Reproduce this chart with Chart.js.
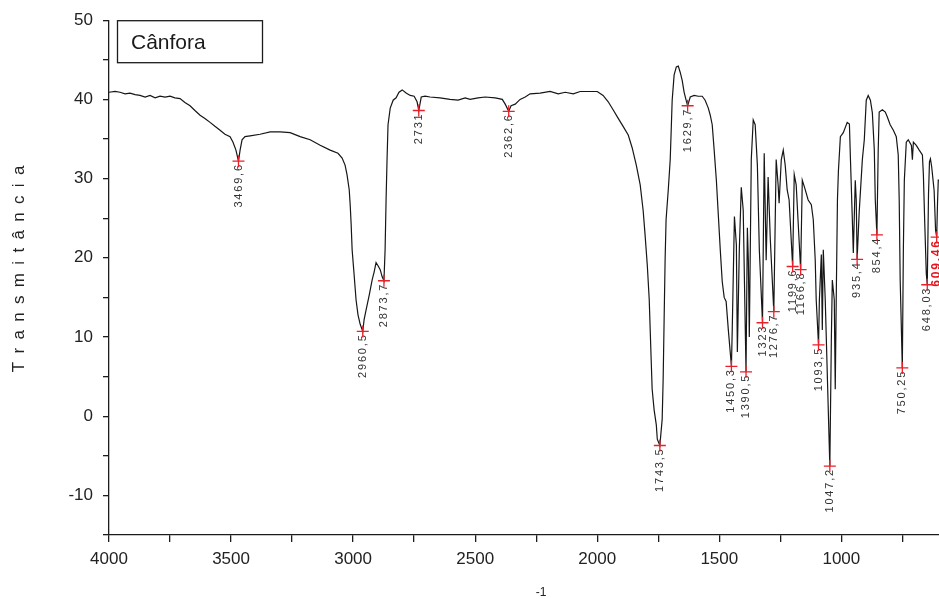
<!DOCTYPE html>
<html>
<head>
<meta charset="utf-8">
<title>Cânfora - IR</title>
<script src="https://cdn.jsdelivr.net/npm/chart.js@4.4.1/dist/chart.umd.min.js"></script>
<style>
  html, body { margin: 0; padding: 0; background: #fff; }
  #wrap { width: 939px; height: 599px; position: relative; }
</style>
</head>
<body>
<div id="wrap"><canvas id="spectrum"></canvas></div>
<script>
// IR spectrum: wavenumber (cm-1) vs transmittance
const wavenumbers = [
  4000, 3975, 3955, 3934, 3914, 3893, 3873, 3852, 3832, 3811, 3791, 3770, 3750, 3730, 3709,
  3689, 3668, 3648, 3627, 3607, 3586, 3566, 3545, 3525, 3504, 3492, 3480, 3469.6, 3463, 3455,
  3443, 3422, 3381, 3340, 3299, 3258, 3217, 3176, 3135, 3094, 3062, 3045, 3033, 3025, 3016,
  3012, 3008, 3004, 2996, 2988, 2980, 2971, 2960.5, 2955, 2947, 2934, 2922, 2914, 2906, 2898,
  2889, 2881, 2873.7, 2869, 2865, 2861, 2857, 2848, 2836, 2824, 2812, 2799, 2783, 2766, 2750,
  2738, 2731, 2721, 2705, 2685, 2644, 2603, 2570, 2541, 2521, 2488, 2459, 2418, 2389, 2377,
  2362.6, 2353, 2336, 2316, 2295, 2275, 2234, 2193, 2160, 2131, 2098, 2070, 2029, 2000, 1976,
  1955, 1935, 1914, 1894, 1873, 1857, 1840, 1824, 1812, 1804, 1795, 1787, 1783, 1779, 1775,
  1767, 1758, 1754, 1743.5, 1734, 1730, 1726, 1722, 1718, 1709, 1701, 1697, 1693, 1685, 1676,
  1668, 1660, 1652, 1644, 1636, 1629.7, 1619, 1603, 1586, 1570, 1558, 1545, 1537, 1529, 1521,
  1512, 1504, 1496, 1488, 1480, 1472, 1463, 1450.3, 1447, 1438, 1430, 1426, 1418, 1410, 1402,
  1390.5, 1385, 1381, 1377, 1369, 1361, 1353, 1344, 1336, 1323, 1316, 1308, 1300, 1291, 1276.7,
  1267, 1259, 1255, 1246, 1238, 1230, 1222, 1214, 1199.6, 1193, 1185, 1166.8, 1160, 1148, 1136,
  1123, 1115, 1107, 1103, 1093.5, 1090, 1082, 1078, 1074, 1066, 1047.2, 1041, 1037, 1029, 1025,
  1021, 1016, 1012, 1004, 992, 976, 967, 963, 955, 951, 943, 939, 935.4, 927, 914,
  906, 898, 890, 881, 873, 865, 861, 854.4, 849, 845, 832, 820, 812, 800, 787,
  775, 767, 763, 759, 750.25, 746, 742, 734, 726, 713, 709, 705, 693, 681, 668,
  664, 658, 652, 648.03, 643, 639, 635, 630, 625, 620, 614, 609.46, 606, 603, 600
];
const transmittance = [
  40.9, 41.0, 40.9, 40.7, 40.8, 40.6, 40.5, 40.3, 40.5, 40.2, 40.4, 40.3, 40.4, 40.2, 40.1,
  39.6, 39.2, 38.6, 38.0, 37.6, 37.1, 36.6, 36.1, 35.6, 35.3, 34.6, 33.6, 32.2, 33.6, 34.9,
  35.3, 35.4, 35.6, 35.9, 35.9, 35.8, 35.3, 34.9, 34.2, 33.6, 33.2, 32.6, 31.7, 30.5, 28.6,
  26.7, 24.2, 21.0, 17.9, 14.7, 12.8, 11.6, 10.7, 12.2, 13.4, 15.3, 17.2, 18.2, 19.4, 19.0,
  18.5, 17.6, 17.1, 21.0, 27.3, 32.4, 36.8, 38.9, 39.9, 40.2, 40.9, 41.2, 40.8, 40.5, 40.4,
  39.7, 38.6, 40.3, 40.4, 40.3, 40.2, 40.0, 39.9, 40.2, 40.0, 40.2, 40.3, 40.2, 40.0, 39.4,
  38.5, 39.2, 39.4, 40.0, 40.3, 40.7, 40.8, 41.0, 40.7, 40.9, 40.7, 41.0, 41.0, 41.0, 40.5,
  39.7, 38.7, 37.6, 36.6, 35.5, 33.9, 31.7, 29.2, 26.0, 22.9, 19.1, 14.7, 10.9, 7.1, 3.4,
  0.8, -1.1, -2.9, -3.7, -0.4, 4.6, 12.2, 19.7, 24.8, 28.6, 32.4, 36.1, 39.9, 43.1, 44.1,
  44.2, 43.4, 42.4, 40.9, 39.9, 39.2, 40.3, 40.5, 40.4, 40.4, 39.9, 38.9, 38.0, 36.8, 33.6,
  29.8, 25.4, 21.0, 17.0, 15.0, 14.5, 10.9, 6.3, 10.9, 25.2, 21.6, 8.1, 21.0, 28.9, 26.0,
  5.6, 23.8, 19.7, 10.0, 32.4, 37.4, 36.8, 31.7, 21.0, 11.8, 33.2, 19.7, 30.2, 22.3, 13.2,
  32.4, 29.2, 26.9, 32.4, 33.6, 31.7, 28.6, 27.3, 18.9, 30.5, 29.2, 18.5, 29.8, 28.6, 27.3,
  26.7, 24.8, 19.7, 14.7, 9.0, 14.7, 20.4, 10.9, 21.0, 14.7, -6.3, 9.7, 17.2, 14.7, 3.4,
  14.7, 27.3, 31.0, 35.3, 35.8, 37.1, 36.9, 32.7, 24.8, 20.6, 29.8, 27.3, 19.8, 25.7, 32.4,
  34.9, 39.9, 40.5, 39.9, 38.3, 33.6, 27.3, 22.9, 33.6, 38.4, 38.7, 38.4, 37.8, 36.8, 36.1,
  35.3, 33.0, 27.3, 17.2, 6.1, 21.0, 29.8, 34.6, 34.9, 34.2, 32.4, 34.6, 34.2, 33.6, 33.0,
  30.5, 24.0, 18.0, 16.6, 28.0, 32.1, 32.5, 31.5, 30.0, 28.5, 23.5, 22.6, 27.0, 29.8, 29.8
];

// picked bands
const peakWavenumbers = [3469.6, 2960.5, 2873.7, 2731, 2362.6, 1743.5, 1629.7, 1450.3, 1390.5, 1323,
  1276.7, 1199.6, 1166.8, 1093.5, 1047.2, 935.4, 854.4, 750.25, 648.03, 609.46];
const peakTransmittance = [32.2, 10.7, 17.1, 38.6, 38.5, -3.7, 39.2, 6.3, 5.6, 11.8,
  13.2, 18.9, 18.5, 9.0, -6.3, 19.8, 22.9, 6.1, 16.6, 22.6];

const xTickValues = [4000, 3750, 3500, 3250, 3000, 2750, 2500, 2250, 2000, 1750, 1500, 1250, 1000, 750];
const yTickValues = [-15, -10, -5, 0, 5, 10, 15, 20, 25, 30, 35, 40, 45, 50];

const sampleName = 'Cânfora';
const yTitle = 'T r a n s m i t â n c i a';
const xUnitExp = '-1';
const lastPickColored = 609.46;

const axisColor = '#1c1c1c';
const fontFamily = "'Liberation Sans', Arial, sans-serif";

const decorations = {
  id: 'decorations',
  beforeDatasetsDraw(chart) {
    const { ctx, scales: { x, y } } = chart;
    // band labels, rotated, hanging below each cross
    peakWavenumbers.forEach((wn, i) => {
      const px = x.getPixelForValue(wn);
      const py = y.getPixelForValue(peakTransmittance[i]);
      const text = String(wn).replace('.', ',');
      const hot = wn === lastPickColored;
      ctx.save();
      ctx.translate(px, py + 2);
      ctx.rotate(-Math.PI / 2);
      ctx.textAlign = 'right';
      ctx.textBaseline = 'middle';
      ctx.letterSpacing = '1.8px';
      ctx.font = (hot ? 'bold 12px ' : '11px ') + fontFamily;
      ctx.fillStyle = hot ? '#e8141c' : '#333';
      ctx.fillText(text, 0, 0);
      ctx.restore();
    });
  },
  afterDraw(chart) {
    const { ctx, chartArea } = chart;
    ctx.save();
    // sample box
    ctx.strokeStyle = axisColor;
    ctx.lineWidth = 1.3;
    ctx.strokeRect(117.5, chartArea.top + 0.5, 145, 42);
    ctx.fillStyle = '#1a1a1a';
    ctx.font = '21px ' + fontFamily;
    ctx.textBaseline = 'alphabetic';
    ctx.fillText(sampleName, 131, chartArea.top + 29);

    // y axis title
    ctx.save();
    ctx.translate(19, 268);
    ctx.rotate(-Math.PI / 2);
    ctx.textAlign = 'center';
    ctx.textBaseline = 'middle';
    ctx.letterSpacing = '1.8px';
    ctx.font = '17px ' + fontFamily;
    ctx.fillStyle = '#222';
    ctx.fillText(yTitle, 0, 0);
    ctx.restore();

    // unit exponent under the x axis
    ctx.font = '12px ' + fontFamily;
    ctx.textAlign = 'center';
    ctx.textBaseline = 'middle';
    ctx.fillStyle = '#222';
    ctx.fillText(xUnitExp, 541, 593);
    ctx.restore();
  }
};

new Chart(document.getElementById('spectrum'), {
  type: 'line',
  data: {
    datasets: [
      {
        label: 'picks',
        data: peakWavenumbers.map((w, i) => ({ x: w, y: peakTransmittance[i] })),
        showLine: false,
        pointStyle: 'cross',
        pointRadius: 6,
        pointBorderColor: '#e8202a',
        pointBorderWidth: 1.3,
        order: 0
      },
      {
        label: sampleName,
        data: wavenumbers.map((w, i) => ({ x: w, y: transmittance[i] })),
        borderColor: '#161616',
        borderWidth: 1.2,
        pointRadius: 0,
        tension: 0,
        fill: false,
        order: 1
      }
    ]
  },
  options: {
    responsive: true,
    maintainAspectRatio: false,
    animation: false,
    events: [],
    layout: { autoPadding: false, padding: { top: 20, right: 0, left: 0, bottom: 0 } },
    plugins: { legend: { display: false }, tooltip: { enabled: false } },
    scales: {
      x: {
        type: 'linear',
        reverse: true,
        min: 600,
        max: 4000,
        afterBuildTicks: s => { s.ticks = xTickValues.map(v => ({ value: v })); },
        afterFit: s => { s.height = 64; s.paddingRight = 0; },
        border: { display: true, color: axisColor, width: 1.3 },
        grid: { drawOnChartArea: false, drawTicks: true, tickLength: 7, color: axisColor, lineWidth: 1.3 },
        ticks: {
          padding: 7, maxRotation: 0, autoSkip: false, color: '#222',
          font: { family: fontFamily, size: 17 },
          callback: v => (v % 500 === 0 ? String(v) : '')
        }
      },
      y: {
        min: -15,
        max: 50,
        afterBuildTicks: s => { s.ticks = yTickValues.map(v => ({ value: v })); },
        afterFit: s => { s.width = 109; },
        border: { display: true, color: axisColor, width: 1.3 },
        grid: { drawOnChartArea: false, drawTicks: true, tickLength: 6, color: axisColor, lineWidth: 1.3 },
        ticks: {
          padding: 10, color: '#222',
          font: { family: fontFamily, size: 17 },
          callback: v => (v % 10 === 0 ? String(v) : '')
        }
      }
    }
  },
  plugins: [decorations]
});
</script>
</body>
</html>
